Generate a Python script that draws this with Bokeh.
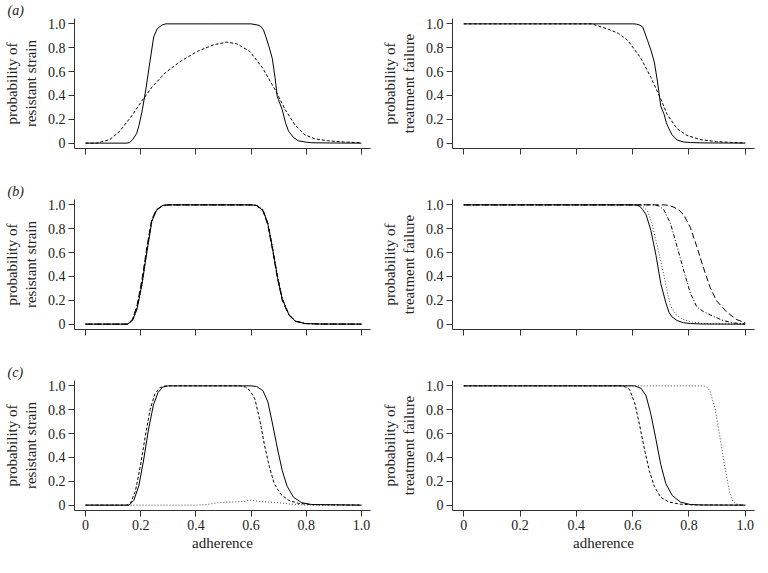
from bokeh.plotting import figure
from bokeh.models import FixedTicker, Title
from bokeh.layouts import column, row
from bokeh.embed import file_html
from bokeh.resources import INLINE

# ---------------- data ----------------
ticks = [0, 0.2, 0.4, 0.6, 0.8, 1.0]
tick_labels = {0: "0", 0.2: "0.2", 0.4: "0.4", 0.6: "0.6", 0.8: "0.8", 1.0: "1.0"}
ylabel_res = "probability of\nresistant strain"
ylabel_fail = "probability of\ntreatment failure"
xlabel = "adherence"
panel_labels = ["(a)", "(b)", "(c)"]

# (a) resistant strain
a_res_solid_x = [0, 0.15, 0.16, 0.171, 0.185, 0.194, 0.206, 0.22, 0.23, 0.247, 0.26, 0.277, 0.29, 0.45, 0.6, 0.625,
                 0.635, 0.645, 0.654, 0.665, 0.677, 0.687, 0.695, 0.705, 0.713, 0.725, 0.736, 0.755, 0.771, 0.8, 0.82, 0.9, 1.0]
a_res_solid_y = [0, 0, 0.005, 0.03, 0.08, 0.15, 0.28, 0.47, 0.63, 0.89, 0.96, 0.99, 1.0, 1.0, 1.0, 0.99,
                 0.98, 0.95, 0.89, 0.81, 0.71, 0.55, 0.39, 0.33, 0.28, 0.17, 0.1, 0.045, 0.02, 0.008, 0.003, 0.001, 0]
a_res_dash_x = [0, 0.04, 0.088, 0.124, 0.171, 0.206, 0.241, 0.289, 0.347, 0.406, 0.465, 0.512, 0.548, 0.595,
                0.642, 0.689, 0.724, 0.76, 0.795, 0.83, 0.877, 0.936, 1.0]
a_res_dash_y = [0, 0, 0.03, 0.1, 0.24, 0.36, 0.47, 0.59, 0.69, 0.77, 0.825, 0.847, 0.833, 0.77,
                0.63, 0.44, 0.28, 0.15, 0.07, 0.037, 0.02, 0.01, 0.003]
# (a) treatment failure
a_fail_solid_x = [0, 0.6, 0.613, 0.625, 0.636, 0.653, 0.665, 0.677, 0.688, 0.7, 0.712, 0.72, 0.729, 0.74, 0.758, 0.78, 0.805, 0.85, 1.0]
a_fail_solid_y = [1, 1, 0.998, 0.99, 0.974, 0.86, 0.78, 0.68, 0.52, 0.31, 0.24, 0.17, 0.12, 0.07, 0.026, 0.01, 0.005, 0.002, 0]
a_fail_dash_x = [0, 0.455, 0.513, 0.55, 0.583, 0.63, 0.665, 0.7, 0.723, 0.758, 0.793, 0.84, 0.898, 0.957, 1.0]
a_fail_dash_y = [1, 1, 0.955, 0.92, 0.86, 0.71, 0.55, 0.37, 0.24, 0.12, 0.065, 0.03, 0.013, 0.005, 0.002]

# (b) resistant strain
b_res_x = [0, 0.152, 0.17, 0.187, 0.205, 0.222, 0.24, 0.257, 0.28, 0.3, 0.6, 0.62, 0.643, 0.661, 0.678, 0.696,
           0.713, 0.737, 0.76, 0.795, 0.85, 1.0]
b_res_solid_y = [0, 0, 0.03, 0.13, 0.34, 0.6, 0.86, 0.955, 0.995, 1, 1, 0.995, 0.955, 0.84, 0.63, 0.39,
                 0.21, 0.08, 0.026, 0.005, 0.001, 0]
b_res_dash_y = [0, 0, 0.04, 0.16, 0.38, 0.64, 0.88, 0.96, 0.995, 1, 1, 0.995, 0.95, 0.83, 0.62, 0.38,
                0.2, 0.075, 0.024, 0.005, 0.001, 0]
b_res_dotdash_y = [0, 0, 0.035, 0.14, 0.36, 0.62, 0.87, 0.958, 0.995, 1, 1, 0.995, 0.958, 0.845, 0.64, 0.4,
                   0.215, 0.082, 0.027, 0.005, 0.001, 0]
b_res_dot_y = [0, 0, 0.03, 0.12, 0.33, 0.59, 0.85, 0.95, 0.993, 1, 1, 0.996, 0.96, 0.85, 0.645, 0.405,
               0.22, 0.085, 0.028, 0.006, 0.001, 0]
# (b) treatment failure
b_fail_solid_x = [0, 0.61, 0.624, 0.636, 0.648, 0.665, 0.683, 0.7, 0.718, 0.729, 0.74, 0.758, 0.78, 0.805, 0.85, 1.0]
b_fail_solid_y = [1, 1, 0.99, 0.96, 0.916, 0.785, 0.576, 0.34, 0.18, 0.1, 0.06, 0.03, 0.012, 0.005, 0.001, 0]
b_fail_dot_x = [0, 0.62, 0.635, 0.653, 0.668, 0.683, 0.698, 0.712, 0.725, 0.735, 0.758, 0.78, 0.805, 0.85, 0.9, 1.0]
b_fail_dot_y = [1, 1, 0.99, 0.95, 0.85, 0.7, 0.55, 0.4, 0.25, 0.15, 0.07, 0.04, 0.02, 0.005, 0.002, 0]
b_fail_dotdash_x = [0, 0.677, 0.695, 0.712, 0.735, 0.758, 0.782, 0.805, 0.828, 0.852, 0.887, 0.922, 0.957, 1.0]
b_fail_dotdash_y = [1, 1, 0.99, 0.955, 0.84, 0.65, 0.445, 0.26, 0.144, 0.105, 0.065, 0.03, 0.01, 0.003]
b_fail_longdash_x = [0, 0.712, 0.73, 0.747, 0.765, 0.782, 0.805, 0.828, 0.852, 0.875, 0.898, 0.933, 0.968, 1.0]
b_fail_longdash_y = [1, 1, 0.995, 0.98, 0.955, 0.916, 0.81, 0.65, 0.47, 0.31, 0.196, 0.105, 0.04, 0.01]

# (c) resistant strain
c_res_solid_x = [0, 0.158, 0.175, 0.193, 0.21, 0.228, 0.246, 0.263, 0.28, 0.3, 0.6, 0.62, 0.643, 0.661, 0.678,
                 0.696, 0.713, 0.731, 0.754, 0.784, 0.82, 1.0]
c_res_solid_y = [0, 0, 0.04, 0.16, 0.37, 0.63, 0.84, 0.945, 0.99, 1, 1, 0.995, 0.96, 0.866, 0.68,
                 0.47, 0.29, 0.157, 0.066, 0.02, 0.005, 0]
c_res_dash_x = [0, 0.15, 0.164, 0.181, 0.199, 0.216, 0.234, 0.251, 0.269, 0.29, 0.561, 0.58, 0.596, 0.614,
                0.632, 0.649, 0.667, 0.684, 0.708, 0.737, 0.772, 0.82, 1.0]
c_res_dash_y = [0, 0, 0.02, 0.12, 0.33, 0.57, 0.8, 0.93, 0.985, 1, 1, 0.99, 0.96, 0.89,
                0.71, 0.5, 0.315, 0.18, 0.09, 0.04, 0.015, 0.004, 0]
c_res_dot_x = [0, 0.4, 0.433, 0.48, 0.526, 0.573, 0.596, 0.632, 0.667, 0.702, 0.737, 0.784, 0.82, 1.0]
c_res_dot_y = [0, 0, 0.003, 0.02, 0.026, 0.03, 0.042, 0.03, 0.026, 0.02, 0.01, 0.003, 0.001, 0]
# (c) treatment failure
c_fail_solid_x = [0, 0.607, 0.63, 0.648, 0.665, 0.683, 0.7, 0.718, 0.741, 0.77, 0.805, 0.85, 1.0]
c_fail_solid_y = [1, 1, 0.98, 0.916, 0.76, 0.55, 0.34, 0.18, 0.08, 0.026, 0.005, 0.001, 0]
c_fail_dash_x = [0, 0.56, 0.575, 0.589, 0.607, 0.624, 0.642, 0.659, 0.677, 0.7, 0.729, 0.77, 0.82, 1.0]
c_fail_dash_y = [1, 1, 0.99, 0.97, 0.86, 0.68, 0.47, 0.29, 0.157, 0.065, 0.026, 0.008, 0.002, 0]
c_fail_dot_x = [0, 0.852, 0.865, 0.875, 0.893, 0.91, 0.928, 0.945, 0.957, 0.974, 1.0]
c_fail_dot_y = [1, 1, 0.99, 0.955, 0.81, 0.576, 0.314, 0.105, 0.026, 0.005, 0]

# ---------------- styling ----------------
FONT = "Liberation Serif"
AX = "#333333"
TXT = "#222222"
DASHES = {"solid": "solid", "dashed": "3 2", "dotted": "1 2", "dotdash": "1 2 4 2", "longdash": "6 3"}

FRAME_H = 130
X0, X1 = -0.04, 1.033
Y0, Y1 = -0.045, 1.045


def make_fig(left, ylabel, bottom_row, panel_label):
    if left:
        width, bl, br = 376, 68, 6
    else:
        width, bl, br = 380, 76, 2
    bb = 43 if bottom_row else 33
    title = Title(text=panel_label if left else " ", align="left", offset=-(bl - 1), standoff=1,
                  text_font=FONT, text_font_size="14px", text_font_style="italic", text_color=TXT)
    p = figure(width=width, height=18 + FRAME_H + bb, output_backend="svg", toolbar_location=None,
               x_range=(X0, X1), y_range=(Y0, Y1), title=title,
               min_border_left=bl, min_border_right=br, min_border_top=0, min_border_bottom=bb)
    p.outline_line_color = None
    p.grid.visible = False
    p.background_fill_color = "white"
    p.border_fill_color = "white"
    for ax in (p.xaxis[0], p.yaxis[0]):
        ax.ticker = FixedTicker(ticks=ticks)
        ax.axis_line_color = AX
        ax.axis_line_width = 1
        ax.major_tick_line_color = AX
        ax.major_tick_out = 6
        ax.major_tick_in = 0
        ax.minor_tick_line_color = None
        ax.major_label_text_font = FONT
        ax.major_label_text_font_size = "14px"
        ax.major_label_text_color = TXT
        ax.major_label_standoff = 3
        ax.axis_label_text_font = FONT
        ax.axis_label_text_font_size = "15px"
        ax.axis_label_text_font_style = "normal"
        ax.axis_label_text_color = TXT
    p.yaxis[0].major_label_overrides = dict(tick_labels)
    p.yaxis[0].axis_label = ylabel
    p.yaxis[0].axis_label_standoff = 6
    if bottom_row:
        p.xaxis[0].major_label_overrides = dict(tick_labels)
        p.xaxis[0].axis_label = xlabel
        p.xaxis[0].axis_label_standoff = 2
    else:
        p.xaxis[0].major_label_overrides = {t: "" for t in ticks}
    return p


def add(p, xs, ys, style, color="black"):
    p.line(xs, ys, line_color=color, line_width=1, line_dash=DASHES[style])


pa1 = make_fig(True, ylabel_res, False, panel_labels[0])
add(pa1, a_res_dash_x, a_res_dash_y, "dashed")
add(pa1, a_res_solid_x, a_res_solid_y, "solid")
pa2 = make_fig(False, ylabel_fail, False, panel_labels[0])
add(pa2, a_fail_dash_x, a_fail_dash_y, "dashed")
add(pa2, a_fail_solid_x, a_fail_solid_y, "solid")

pb1 = make_fig(True, ylabel_res, False, panel_labels[1])
add(pb1, b_res_x, b_res_dot_y, "dotted", "#444444")
add(pb1, b_res_x, b_res_dotdash_y, "dotdash")
add(pb1, b_res_x, b_res_dash_y, "longdash")
add(pb1, b_res_x, b_res_solid_y, "solid")
pb2 = make_fig(False, ylabel_fail, False, panel_labels[1])
add(pb2, b_fail_dot_x, b_fail_dot_y, "dotted", "#444444")
add(pb2, b_fail_dotdash_x, b_fail_dotdash_y, "dotdash")
add(pb2, b_fail_longdash_x, b_fail_longdash_y, "longdash")
add(pb2, b_fail_solid_x, b_fail_solid_y, "solid")

pc1 = make_fig(True, ylabel_res, True, panel_labels[2])
add(pc1, c_res_dot_x, c_res_dot_y, "dotted", "#444444")
add(pc1, c_res_dash_x, c_res_dash_y, "dashed")
add(pc1, c_res_solid_x, c_res_solid_y, "solid")
pc2 = make_fig(False, ylabel_fail, True, panel_labels[2])
add(pc2, c_fail_dot_x, c_fail_dot_y, "dotted", "#444444")
add(pc2, c_fail_dash_x, c_fail_dash_y, "dashed")
add(pc2, c_fail_solid_x, c_fail_solid_y, "solid")

layout = column(row(pa1, pa2), row(pb1, pb2), row(pc1, pc2))

open("out.html", "w").write(file_html(layout, INLINE))
